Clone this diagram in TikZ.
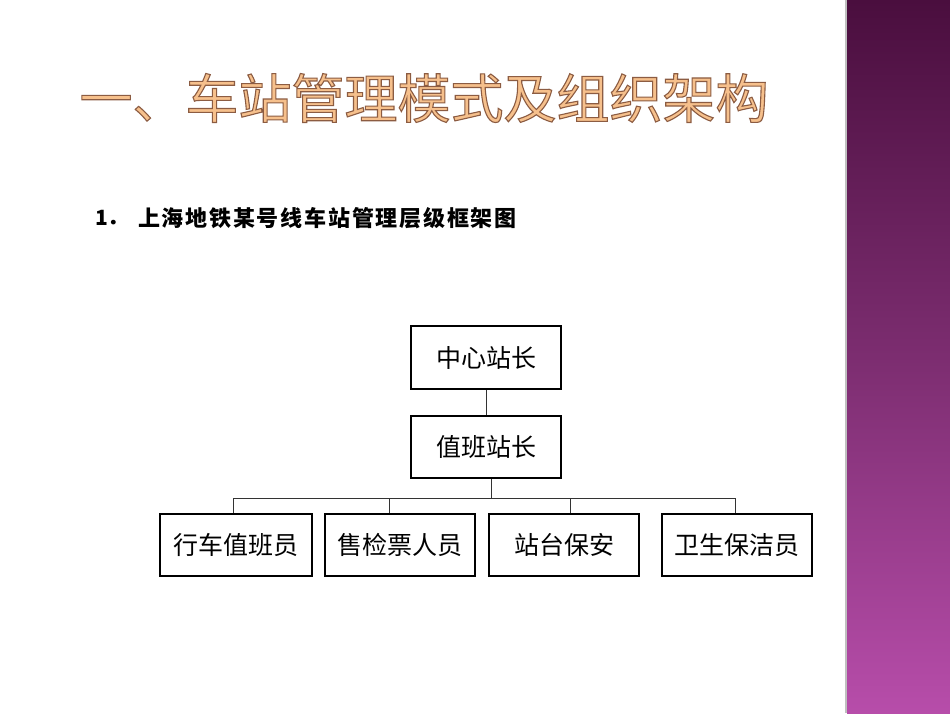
\documentclass[tikz,border=0pt]{standalone}
\usepackage{fontspec}
\newfontfamily\cjk{Noto Sans CJK SC}
\newfontfamily\cjkls[LetterSpace=8]{Noto Sans CJK SC}
\usetikzlibrary{calc}
\definecolor{bandtop}{HTML}{4A0E3E}
\definecolor{bandmid}{HTML}{7C2D70}
\definecolor{bandbot}{HTML}{B74DAA}
\definecolor{titlefill}{HTML}{F6C08C}
\tikzset{
  box/.style={draw=black, line width=1.8pt, minimum height=62pt, inner sep=0pt,
    font=\cjk\fontsize{25}{28}\selectfont},
  link/.style={draw=black!80, line width=1pt},
  titletext/.style={font=\cjk\fontsize{53}{60}\selectfont, inner sep=0pt}
}
\begin{document}
\begin{tikzpicture}[x=1pt,y=-1pt]
\useasboundingbox (0,0) rectangle (950,713);
\fill[white] (0,0) rectangle (950,713);
% right band
\shade[top color=bandtop, bottom color=bandbot, middle color=bandmid] (847,0) rectangle (950,713);
\draw[black!25, line width=1.5pt] (846,0) -- (846,713);
% title: filled and outlined text
\node[titletext] (title) at (424,98) {\color{titlefill}\special{pdf:literal direct 2 Tr 1.1 w 0.55 0.36 0.26 RG}一、车站管理模式及组织架构\special{pdf:literal direct 0 Tr 0.4 w}};
% subtitle
\node[anchor=west, inner sep=0pt, font=\cjk\bfseries\fontsize{21}{24}\selectfont] (num) at (95,218) {1．};
\node[anchor=west, inner sep=0pt, font=\cjkls\bfseries\fontsize{22}{24}\selectfont] (sub) at (138,218) {上海地铁某号线车站管理层级框架图};
% boxes
\node[box, minimum width=150pt, minimum height=63pt] (top) at (486,357.5) {中心站长};
\node[box, minimum width=150pt] (mid) at (486,447) {值班站长};
\node[box, minimum width=152pt] (b1) at (236,545) {行车值班员};
\node[box, minimum width=150pt] (b2) at (400,545) {售检票人员};
\node[box, minimum width=150pt] (b3) at (564,545) {站台保安};
\node[box, minimum width=150pt] (b4) at (737,545) {卫生保洁员};
\coordinate (bus) at (491,498);
% connectors
\draw[link] (top.south) -- (mid.north);
\draw[link] ([xshift=5pt]mid.south) -- (bus);
\draw[link] ([xshift=-3pt]b1.north) -- ([xshift=-3pt]b1.north |- bus) -- ([xshift=-2pt]b4.north |- bus) -- ([xshift=-2pt]b4.north);
\draw[link] ([xshift=-11pt]b2.north) -- ([xshift=-11pt]b2.north |- bus);
\draw[link] ([xshift=6pt]b3.north) -- ([xshift=6pt]b3.north |- bus);
\end{tikzpicture}
\end{document}
